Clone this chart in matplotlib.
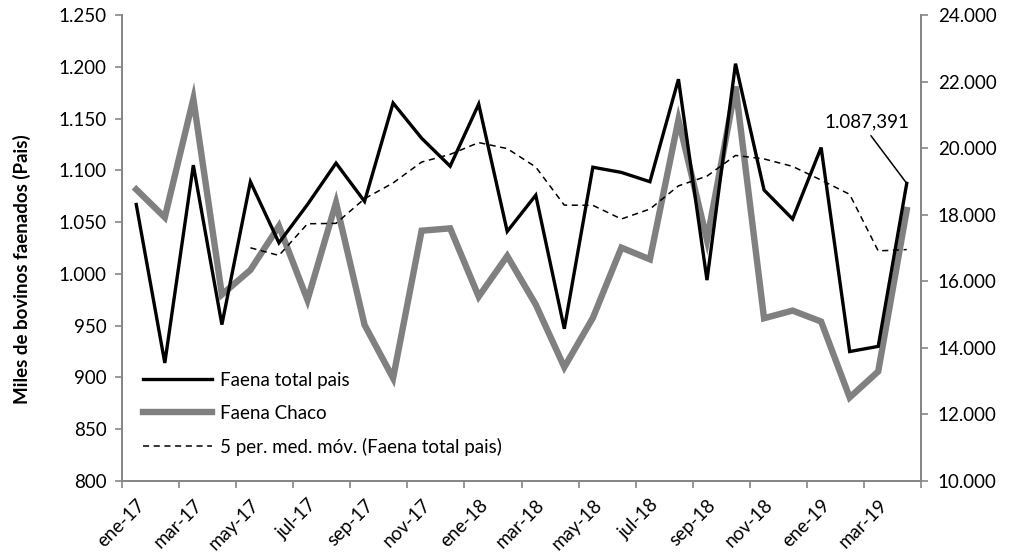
import numpy as np
import pandas as pd
import matplotlib
matplotlib.use("Agg")
import matplotlib.pyplot as plt
from matplotlib.ticker import FuncFormatter, FixedLocator

plt.rcParams['font.family'] = ['Lato', 'DejaVu Sans']

meses = ['ene-17', 'feb-17', 'mar-17', 'abr-17', 'may-17', 'jun-17', 'jul-17',
         'ago-17', 'sep-17', 'oct-17', 'nov-17', 'dic-17', 'ene-18', 'feb-18',
         'mar-18', 'abr-18', 'may-18', 'jun-18', 'jul-18', 'ago-18', 'sep-18',
         'oct-18', 'nov-18', 'dic-18', 'ene-19', 'feb-19', 'mar-19', 'abr-19']

# miles de cabezas, total pais
faena_pais = [1067, 914, 1105, 951, 1089, 1030, 1067, 1107, 1070, 1165, 1131, 1104,
              1164, 1041, 1076, 947, 1103, 1098, 1089, 1188, 994, 1203, 1081, 1053,
              1122, 925, 930, 1087.391]

# cabezas, Chaco
faena_chaco = [18760, 17920, 21480, 15600, 16340, 17660, 15440, 18360, 14690, 13090,
               17520, 17590, 15540, 16760, 15300, 13420, 14900, 17010, 16660, 20850,
               17240, 21850, 14890, 15120, 14790, 12510, 13290, 18140]

x = np.arange(len(meses))
media_movil = pd.Series(faena_pais).rolling(5).mean()

fig = plt.figure(figsize=(10.21, 5.54), dpi=100)
ax = fig.add_axes([122/1021, 1 - 481/554, 799/1021, 466/554])
ax2 = ax.twinx()

gris_eje = '#868686'
fs = 13.5

l2, = ax2.plot(x, faena_chaco, color='#808080', lw=4.6, solid_joinstyle='miter',
               label='Faena Chaco')
l1, = ax.plot(x, faena_pais, color='black', lw=2.4, solid_joinstyle='miter',
              label='Faena total pais')
l3, = ax.plot(x, media_movil, color='black', lw=1.1, ls=(0, (4, 3)),
              label='5 per. med. móv. (Faena total pais)')
ax.set_zorder(ax2.get_zorder() + 1)
ax.patch.set_visible(False)

ax.set_xlim(-0.5, len(meses) - 0.5)
ax.set_ylim(800, 1250)
ax2.set_ylim(10000, 24000)
ax.set_yticks(np.arange(800, 1251, 50))
ax2.set_yticks(np.arange(10000, 24001, 2000))

miles = FuncFormatter(lambda v, p: f'{v:,.0f}'.replace(',', '.'))
ax.yaxis.set_major_formatter(miles)
ax2.yaxis.set_major_formatter(miles)

ax.set_xticks(x[::2])
ax.set_xticklabels(meses[::2], rotation=45, ha='right', rotation_mode='anchor')
ax.xaxis.set_minor_locator(FixedLocator(np.arange(-0.5, len(meses), 2)))
ax.tick_params(axis='x', which='major', length=0, pad=11)
ax.tick_params(axis='x', which='minor', length=5, color=gris_eje, width=1.2)

for a in (ax, ax2):
    a.spines['top'].set_visible(False)
    for s in ('left', 'right', 'bottom'):
        a.spines[s].set_color(gris_eje)
        a.spines[s].set_linewidth(1.3)
ax.tick_params(axis='y', length=5, color=gris_eje, width=1.2, labelsize=fs, pad=6)
ax2.tick_params(axis='y', length=5, color=gris_eje, width=1.2, labelsize=fs, pad=7)
ax.tick_params(axis='x', labelsize=fs)

ax.set_ylabel('Miles de bovinos faenados (Pais)', fontsize=fs, fontweight='bold')
ax.yaxis.set_label_coords(-0.114, 0.455)

ax.annotate('1.087,391', xy=(x[-1], faena_pais[-1]), xytext=(x[-1] - 1.4, 1147),
            fontsize=fs, ha='center', va='center',
            arrowprops=dict(arrowstyle='-', color='black', lw=1.1, relpos=(0.5, 0),
                            patchA=None, shrinkA=5, shrinkB=0))

ax.legend(handles=[l1, l2, l3], loc='lower left', bbox_to_anchor=(0.005, 0.018),
          frameon=False, fontsize=fs, handlelength=3.7, labelspacing=0.85,
          handletextpad=0.4)

fig.savefig('out.png', dpi=100)
